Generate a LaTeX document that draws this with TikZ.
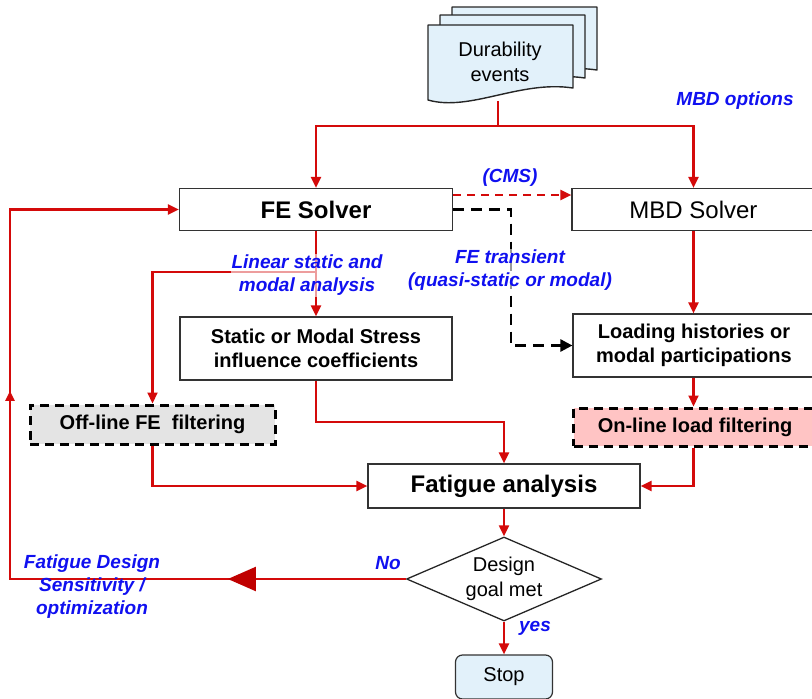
\documentclass[tikz,border=0pt]{standalone}
\usepackage{fontspec}
\setmainfont{Liberation Sans}
\usetikzlibrary{arrows.meta,shapes.geometric,decorations.markings}
\definecolor{fred}{RGB}{212,10,10}
\definecolor{fblue}{RGB}{16,16,240}
\definecolor{docblue}{RGB}{226,241,250}
\definecolor{offgray}{RGB}{228,228,228}
\definecolor{onpink}{RGB}{255,196,196}
\definecolor{bigred}{RGB}{192,0,0}
\begin{document}
\begin{tikzpicture}[x=1pt,y=-1pt,
  box/.style={draw=black!80,line width=1.2pt,inner sep=0pt,align=center},
  midtxt/.style={font=\fontsize{20}{24}\selectfont\bfseries},
  dbox/.style={draw=black,line width=3pt,dash pattern=on 9pt off 6pt,inner sep=0pt,align=center,font=\fontsize{20}{24}\selectfont\bfseries},
  rl/.style={draw=fred,line width=2.1pt},
  ra/.style={rl,-{Triangle[length=11pt,width=10pt]}},
  lbl/.style={text=fblue,font=\fontsize{19}{23}\selectfont\bfseries\itshape,align=center},
  doc/.style={draw=black!85,line width=1.4pt,fill=docblue,line join=round}
]
\useasboundingbox (0,0) rectangle (812,699);

% document stack
\foreach \dx/\dy in {24/-18,12/-10,0/0}{
  \begin{scope}[shift={(\dx,\dy)}]
    \path[doc] (428,25) -- (573,25) -- (573,88) .. controls (520,80) and (470,112) .. (428,100) -- cycle;
  \end{scope}
}
\node[align=center,font=\fontsize{20}{25}\selectfont] (docs) at (500,62) {Durability\\events};
\coordinate (docbot) at (498,101);
\coordinate (split) at (498,126);

% nodes
\node[box,font=\fontsize{24}{28}\selectfont\bfseries,minimum width=273pt,minimum height=42pt] (fe) at (316,209.5) {FE Solver};
\node[box,font=\fontsize{24}{28}\selectfont,minimum width=243pt,minimum height=42pt] (mbd) at (693.5,209.5) {MBD Solver};
\node[box,midtxt,minimum width=272pt,minimum height=63pt] (static) at (316,348.5) {Static or Modal Stress\\influence coefficients};
\node[box,midtxt,minimum width=242pt,minimum height=63pt] (load) at (694,345.5) {Loading histories or\\modal participations};
\node[dbox,fill=offgray,minimum width=245pt,minimum height=39pt] (off) at (152.5,424.5) {Off-line FE\ \ filtering};
\node[dbox,fill=onpink,minimum width=243pt,minimum height=38pt] (on) at (695,427) {On-line load filtering};
\node[box,font=\fontsize{24}{28}\selectfont\bfseries,minimum width=272pt,minimum height=44pt] (fat) at (504,486) {Fatigue analysis};
\node[diamond,draw=black!85,line width=1.3pt,inner sep=0pt,aspect=2.32,minimum width=195pt,minimum height=84pt,align=center,font=\fontsize{20}{25}\selectfont] (dia) at (504,579) {Design\\goal met};
\node[box,rounded corners=7pt,fill=docblue,minimum width=97pt,minimum height=44pt,font=\fontsize{20}{24}\selectfont] (stop) at (504,677) {Stop};

% helper coordinates
\coordinate (bx) at (511,0);
\coordinate (br) at (316,272);
\coordinate (j1) at (400,422);
\coordinate (lx) at (10,0);
\coordinate (rx) at (693.5,0);

% connectors
\draw[rl] (docbot) -- (split);
\draw[ra] (split) -| (fe.north);
\draw[ra] (split) -| (mbd.north);
\draw[rl,dash pattern=on 8pt off 6pt,-{Triangle[length=11pt,width=10pt]}] ([yshift=14.5pt]fe.east) -- ([yshift=14.5pt]fe.east -| mbd.west);
\draw[draw=black,line width=2.6pt,dash pattern=on 11pt off 7pt,-{Triangle[length=12pt,width=12pt]}] (fe.east) -- (bx |- fe.east) -- (bx |- load.west) -- (load.west);
\draw[ra] (fe.south) -- (static.north);
\draw[ra] (br) -| (off.north);
\draw[ra] (mbd.south) -- (rx |- load.north);
\draw[ra] (rx |- load.south) -- (rx |- on.north);
\draw[ra] (static.south) |- (j1) -| (fat.north);
\draw[ra] (off.south) |- (fat.west);
\draw[ra] (rx |- on.south) |- (fat.east);
\draw[ra] (fat.south) -- (dia.north);
\draw[ra] (dia.south) -- (stop.north);
\draw[ra,postaction={decorate},decoration={markings,
   mark=at position 178pt with {\arrow{Triangle[length=28pt,width=24pt,color=bigred]}},
   mark=at position 584pt with {\arrow{Triangle[length=10pt,width=9pt]}}}]
   (dia.west) -- (lx |- dia.west) -- (lx |- fe.west) -- (fe.west);

% labels
\node[lbl] (mbdopt) at (735,101) {MBD options};
\node[lbl] (cms) at (510,178) {(CMS)};
\node[lbl,fill=white,fill opacity=0.6,text opacity=1,inner sep=1pt] (lin) at (307,275.5) {Linear static and\\modal analysis};
\node[lbl,fill=white,fill opacity=0.6,text opacity=1,inner sep=1pt] (fet) at (510,270) {FE transient\\(quasi-static or modal)};
\node[lbl] (no) at (388,563) {No};
\node[lbl] (yes) at (535,628) {yes};
\node[lbl] (fds) at (92,587) {Fatigue Design\\Sensitivity /\\optimization};
\end{tikzpicture}
\end{document}
